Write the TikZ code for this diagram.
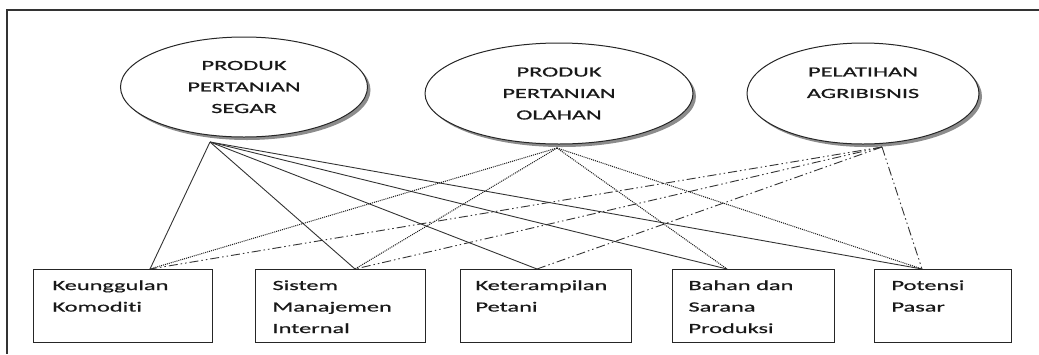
\documentclass[tikz,border=0pt]{standalone}
\usepackage{fontspec}
\setmainfont[FakeStretch=1.74,FakeBold=0.7,Ligatures=NoCommon]{Carlito}
\usetikzlibrary{shapes.geometric,calc}
\newcommand\boxbody[3]{\begin{minipage}[c][73pt][t]{#1}\raggedright\leftskip=#2\relax\rule{0pt}{20.5pt}#3\end{minipage}}
\begin{document}
\begin{tikzpicture}[x=1pt,y=-1pt,
  every node/.style={font=\fontsize{14}{21.5}\selectfont, text=black!90},
  oval/.style={ellipse, draw=black!85, line width=1pt, fill=white, inner sep=0pt, align=center},
  ovalshadow/.style={ellipse, fill=black!45, inner sep=0pt},
  itembox/.style={draw=black!85, line width=1pt, rectangle, inner sep=0pt, anchor=north west},
  link/.style={line width=0.9pt, draw=black!80},
  dotlink/.style={line width=1pt, draw=black!90, dash pattern=on 1pt off 1pt},
  ddlink/.style={line width=0.9pt, draw=black!80, dash pattern=on 9pt off 3pt on 1.5pt off 3pt on 1.5pt off 3pt},
  frameline/.style={line width=1.2pt, draw=black!80}
]
\useasboundingbox (0,0) rectangle (1039,354);
% frame (only top and left edges visible)
\coordinate (fa) at (1039,10);
\coordinate (fb) at (7,10);
\coordinate (fc) at (7,354);
\draw[frameline] (fa) -- (fb) -- (fc);

% ellipse shadows
\node[ovalshadow, minimum width=247pt, minimum height=100pt] (s1) at (247,90) {};
\node[ovalshadow, minimum width=268pt, minimum height=101pt] (s2) at (562,96.5) {};
\node[ovalshadow, minimum width=232pt, minimum height=101pt] (s3) at (866,96.5) {};

% ellipses
\node[oval, minimum width=247pt, minimum height=100pt] (e1) at (244,87) {PRODUK\\PERTANIAN\\SEGAR};
\node[oval, minimum width=268pt, minimum height=101pt] (e2) at (559,93.5) {PRODUK\\PERTANIAN\\OLAHAN};
\node[oval, minimum width=232pt, minimum height=101pt] (e3) at (863,93.5) {PELATIHAN\\AGRIBISNIS\\~};

% hubs below ellipses
\coordinate (h1) at (210,142);
\coordinate (h2) at (557,148);
\coordinate (h3) at (882,147);

% boxes
\node[itembox] (b1) at (33,269) {\boxbody{179pt}{19pt}{Keunggulan\\Komoditi}};
\node[itembox] (b2) at (255,269) {\boxbody{170pt}{17pt}{Sistem\\Manajemen\\Internal}};
\node[itembox] (b3) at (460,269) {\boxbody{171pt}{15pt}{Keterampilan\\Petani}};
\node[itembox] (b4) at (672,269) {\boxbody{162pt}{16pt}{Bahan dan\\Sarana\\Produksi}};
\node[itembox] (b5) at (874,269) {\boxbody{137pt}{17pt}{Potensi\\Pasar}};

% attach points on box tops
\coordinate (t1) at ($(b1.north west)+(117,0)$);
\coordinate (t2) at ($(b2.north west)+(100,0)$);
\coordinate (t3) at ($(b3.north west)+(77,0)$);
\coordinate (t4) at ($(b4.north west)+(55,0)$);
\coordinate (t5) at ($(b5.north west)+(48,0)$);

% connectors
\foreach \t in {t1,t2,t3,t4,t5} \draw[link] (h1) -- (\t);
\foreach \t in {t1,t2,t4,t5} \draw[dotlink] (h2) -- (\t);
\foreach \t in {t1,t2,t3,t5} \draw[ddlink] (h3) -- (\t);
\end{tikzpicture}
\end{document}
